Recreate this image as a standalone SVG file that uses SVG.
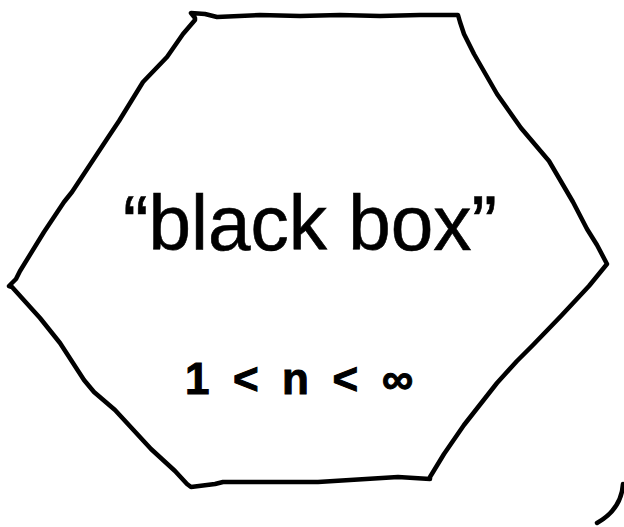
<svg xmlns="http://www.w3.org/2000/svg" width="624" height="527" viewBox="0 0 624 527">
<style>
.ink{fill:none;stroke:#000;stroke-width:4.5;stroke-linecap:round;stroke-linejoin:round}
.hand{font-family:"Liberation Sans",Arial,sans-serif;fill:#000;stroke:#000;stroke-width:0.6}
.bold{font-weight:bold;stroke-width:1}
</style>
<rect width="624" height="527" fill="#fff"/>
<g id="blackbox">
<path class="ink" d="M195,18 L191,13 L205,14 L217,17 L260,15 L300,16 L340,15 L380,16 L420,15 L458,15 L460,22 L464,34 L474,54 L497,94 L521,128 L549,161 L573,202 L587,229 L597,245 L607,264 L589,286 L561,316 L533,345 L517,361 L497,383 L464,425 L444,454 L430,477 L430,479 L398,477 L318,482 L223,482 L215,484 L191,487 L187,484 L175,471 L151,449 L115,410 L94,392 L84,380 L60,343 L40,318 L12,287 L9,286 L16,279 L20,271 L44,232 L64,202 L72,192 L107,139 L119,121 L143,82 L167,57 L183,34 L195,20 Z"/>
<text class="hand" x="123" y="250" font-size="78" textLength="374" lengthAdjust="spacingAndGlyphs">“black box”</text>
<text class="hand bold" x="185" y="394" font-size="44" textLength="228" lengthAdjust="spacing">1 &lt; n &lt; ∞</text>
</g>
<g id="connectors">
<path class="ink" d="M623,484 C622,500 613,514 597,523"/>
</g>
</svg>
